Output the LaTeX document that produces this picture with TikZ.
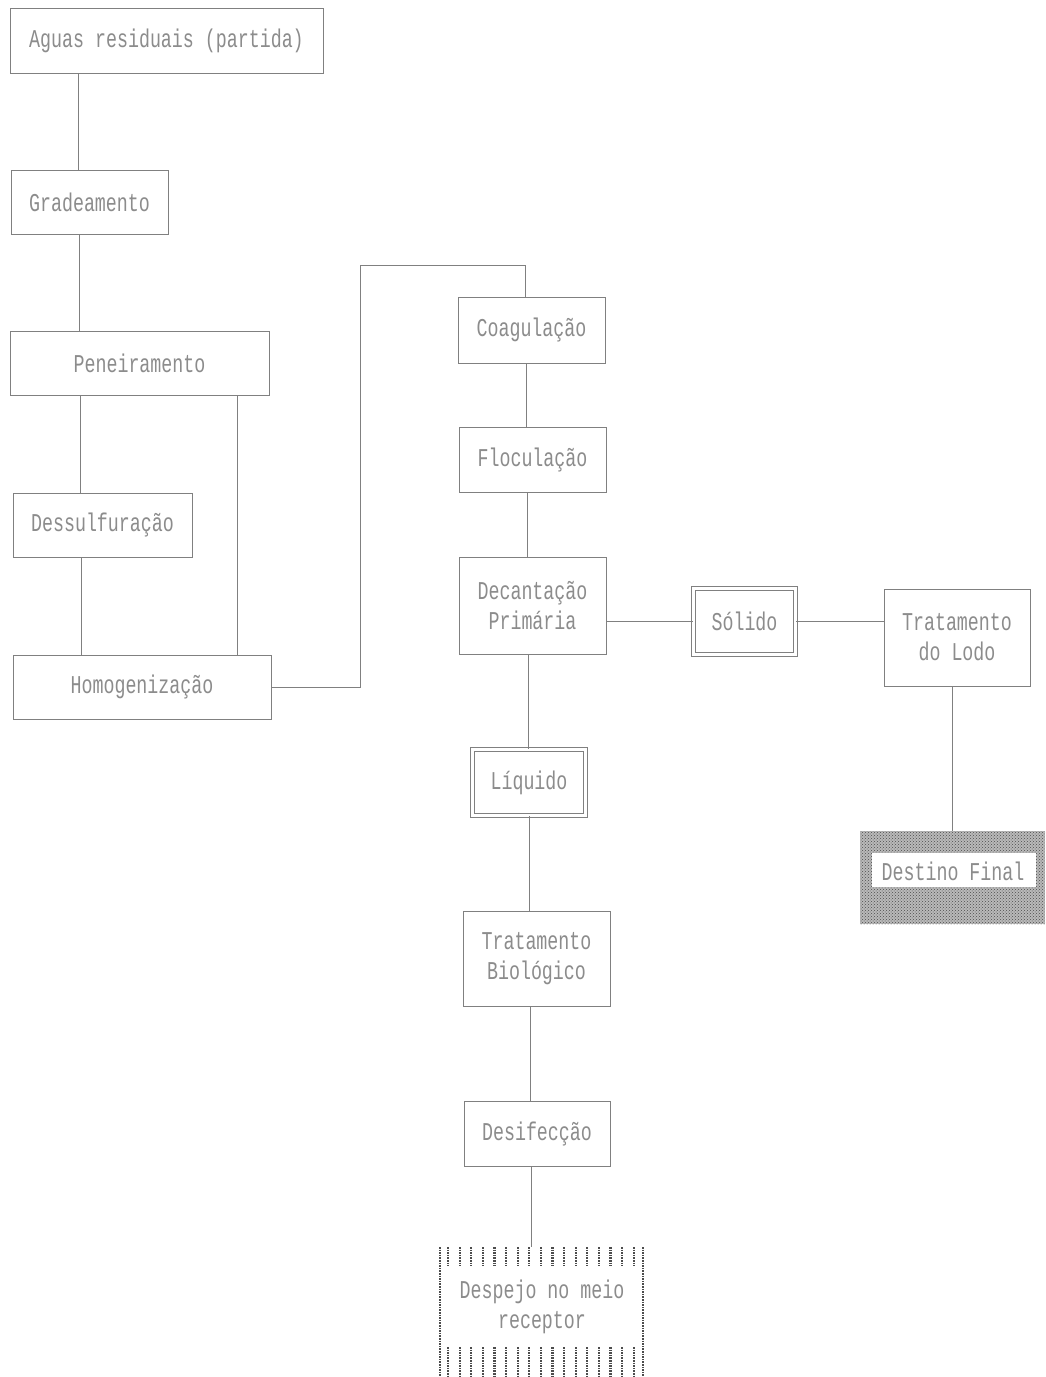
\documentclass[tikz,border=0pt]{standalone}
\usepackage{fontspec}
\usepackage{graphicx}
\setmonofont{Liberation Mono}
\usetikzlibrary{patterns}
\newcommand\dm[1]{\scalebox{1}[1.4]{#1}}
\definecolor{ln}{gray}{0.5}
\definecolor{tx}{gray}{0.55}
\begin{document}
\begin{tikzpicture}[x=1pt,y=-1pt,
  box/.style={draw=ln,line width=1pt,rectangle,inner sep=0pt,text=tx,
    font=\ttfamily\fontsize{18.3}{30}\selectfont,align=center},
  dbl/.style={box,double=white,double distance=3pt,line width=0.9pt},
  conn/.style={draw=ln,line width=0.9pt},
  stripe/.style={gray!60!black,line width=2.2pt,dash pattern=on 1.6pt off 1pt}]
\useasboundingbox[fill=white] (0,0) rectangle (1045,1377);

% shaded backgrounds
\fill[gray!55] (860,831) rectangle (1045,924);
\fill[pattern=crosshatch dots,pattern color=gray!60!black] (860,831) rectangle (1045,924);
\fill[white] (872,853) rectangle (1036,887);
\foreach \i in {0,...,16}{
  \draw[stripe] (448+\i*11.6,1247) -- (448+\i*11.6,1266);
  \draw[stripe] (448+\i*11.6,1347) -- (448+\i*11.6,1377);
}
\draw[stripe,line width=2.6pt] (440,1247) -- (440,1377);
\draw[stripe,line width=2.6pt] (643,1247) -- (643,1377);

% nodes
\node[box,minimum width=313pt,minimum height=65pt] (a) at (166.5,40.5) {\dm{Aguas residuais (partida)}};
\node[box,minimum width=157pt,minimum height=64pt] (g) at (89.5,202) {\dm{Gradeamento}};
\node[box,minimum width=259pt,minimum height=64pt] (p) at (139.5,363) {\dm{Peneiramento}};
\node[box,minimum width=179pt,minimum height=64pt] (d) at (102.5,525) {\dm{Dessulfuração}};
\node[box,minimum width=258pt,minimum height=64pt] (h) at (142,687) {\dm{Homogenização}};
\node[box,minimum width=147pt,minimum height=66pt] (c) at (531.5,330) {\dm{Coagulação}};
\node[box,minimum width=147pt,minimum height=65pt] (f) at (532.5,459.5) {\dm{Floculação}};
\node[box,minimum width=147pt,minimum height=97pt] (dp) at (532.5,605.5) {\dm{Decantação}\\\dm{Primária}};
\node[dbl,minimum width=102pt,minimum height=66pt] (s) at (744.5,621.5) {\dm{Sólido}};
\node[box,minimum width=146pt,minimum height=97pt] (tl) at (957,637.5) {\dm{Tratamento}\\\dm{do Lodo}};
\node[text=tx,font=\ttfamily\fontsize{18.3}{30}\selectfont,inner sep=0pt] (df) at (953,871) {\dm{Destino Final}};
\node[dbl,minimum width=113pt,minimum height=66pt] (l) at (529,782.5) {\dm{Líquido}};
\node[box,minimum width=147pt,minimum height=95pt] (tb) at (536.5,958.5) {\dm{Tratamento}\\\dm{Biológico}};
\node[box,minimum width=146pt,minimum height=65pt] (ds) at (537,1133.5) {\dm{Desifecção}};
\node[text=tx,font=\ttfamily\fontsize{18.3}{30}\selectfont,align=center,inner sep=0pt] (dr) at (542,1307) {\dm{Despejo no meio}\\\dm{receptor}};
\coordinate (drtop) at (531,1247);
\coordinate (dftop) at (952,831);

% connectors
\draw[conn] (a.south -| 78,0) -- (g.north -| 78,0);
\draw[conn] (g.south -| 79,0) -- (p.north -| 79,0);
\draw[conn] (p.south -| 80,0) -- (d.north -| 80,0);
\draw[conn] (d.south -| 81,0) -- (h.north -| 81,0);
\draw[conn] (p.south -| 237,0) -- (h.north -| 237,0);
\draw[conn] (h.east) -- (360,687) -- (360,265) -- (525,265) -- (c.north -| 525,0);
\draw[conn] (c.south -| 526,0) -- (f.north -| 526,0);
\draw[conn] (f.south -| 527,0) -- (dp.north -| 527,0);
\draw[conn] (dp.east |- 0,621) -- (s.west |- 0,621);
\draw[conn] (s.east |- 0,621) -- (tl.west |- 0,621);
\draw[conn] (dp.south -| 528,0) -- (l.north -| 528,0);
\draw[conn] (l.south -| 529,0) -- (tb.north -| 529,0);
\draw[conn] (tb.south -| 530,0) -- (ds.north -| 530,0);
\draw[conn] (ds.south -| 531,0) -- (drtop);
\draw[conn] (tl.south -| 952,0) -- (dftop);
\end{tikzpicture}
\end{document}
